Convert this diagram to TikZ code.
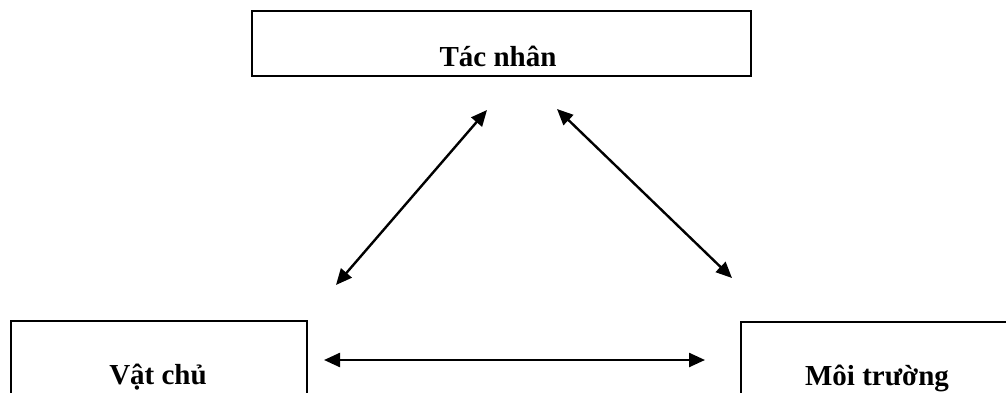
\documentclass[tikz,border=0pt]{standalone}
\usepackage{fontspec}
\setmainfont{Liberation Serif}
\usetikzlibrary{arrows.meta}
\begin{document}
\begin{tikzpicture}[x=1pt,y=-1pt,
  boxline/.style={line width=2.4pt,line cap=rect},
  label/.style={font=\fontsize{29}{32}\selectfont\bfseries,anchor=base,inner sep=0pt},
  link/.style={line width=2.4pt,{Triangle[length=16pt,width=14pt]}-{Triangle[length=16pt,width=14pt]}}]
\useasboundingbox (0,0) rectangle (1006,393);
% top box
\node[draw,line width=2.4pt,minimum width=499pt,minimum height=65pt,inner sep=0pt] (top) at (501.5,43.5) {};
\node[label] (tacnhan) at (498,67) {Tác nhân};
% bottom left box (open at bottom)
\draw[boxline] (11,393) -- (11,321) -- (307,321) -- (307,393);
\node[label] (vatchu) at (158,384) {Vật chủ};
% bottom right box (open at bottom and right)
\draw[boxline] (741,393) -- (741,322) -- (1006,322);
\node[label] (moitruong) at (877,385) {Môi trường};
% arrow end points
\coordinate (a1) at (487,110);
\coordinate (a2) at (336,285);
\coordinate (b1) at (557,109);
\coordinate (b2) at (732,278);
\coordinate (c1) at (324,360);
\coordinate (c2) at (705,360);
\draw[link] (a2) -- (a1);
\draw[link] (b1) -- (b2);
\draw[link] (c1) -- (c2);
\end{tikzpicture}
\end{document}
